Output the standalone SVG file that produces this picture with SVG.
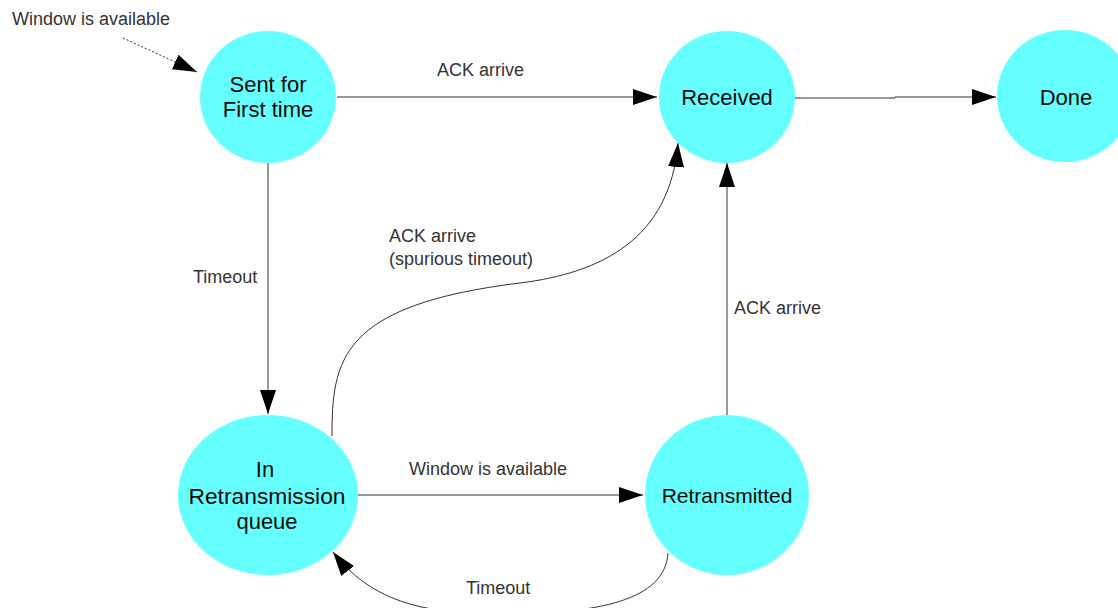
<svg xmlns="http://www.w3.org/2000/svg" width="1118" height="608" viewBox="0 0 1118 608">
<style>
.node{fill:#66ffff;stroke:none}
.nt{font-family:"Liberation Sans",Arial,sans-serif;font-size:22px;fill:#0a0a0a;text-anchor:middle}
.lbl{font-family:"Liberation Sans",Arial,sans-serif;font-size:18px;fill:#333}
.edge{fill:none;stroke:#333;stroke-width:1}
</style>
<defs>
<marker id="arr" markerUnits="userSpaceOnUse" markerWidth="26" markerHeight="18" refX="24" refY="8" orient="auto" viewBox="0 0 26 18">
<path d="M0,0 L24,8 L0,16 z" fill="#000"/>
</marker>
</defs>
<rect width="1118" height="608" fill="#fff"/>
<g id="connectors">
<path class="edge" d="M123,38 L197,72" stroke-dasharray="2,2" marker-end="url(#arr)"/>
<path class="edge" d="M337,97 L657,97" marker-end="url(#arr)"/>
<path class="edge" d="M795,98 L895,98 L895,97 L996,97" marker-end="url(#arr)"/>
<path class="edge" d="M268,163 L268,414" marker-end="url(#arr)"/>
<path class="edge" d="M358,495 L643,495" marker-end="url(#arr)"/>
<path class="edge" d="M727,415 L727,163" marker-end="url(#arr)"/>
<path class="edge" d="M332,436 C332,360 340,305 520,283 C600,273 670,240 678,143" marker-end="url(#arr)"/>
<path class="edge" d="M668,553 C665,600 600,614 500,614 C420,614 370,600 333,552" marker-end="url(#arr)"/>
<text class="lbl" x="12" y="25">Window is available</text>
<text class="lbl" x="437" y="76">ACK arrive</text>
<text class="lbl" x="389" y="242">ACK arrive</text>
<text class="lbl" x="389" y="265">(spurious timeout)</text>
<text class="lbl" x="193" y="283">Timeout</text>
<text class="lbl" x="734" y="314">ACK arrive</text>
<text class="lbl" x="409" y="475">Window is available</text>
<text class="lbl" x="466" y="594">Timeout</text>
</g>
<g id="sent">
<ellipse class="node" cx="268" cy="97" rx="68" ry="66"/>
<text class="nt" x="268" y="92">Sent for</text>
<text class="nt" x="268" y="117">First time</text>
</g>
<g id="received">
<ellipse class="node" cx="727" cy="97" rx="68" ry="66"/>
<text class="nt" x="727" y="105">Received</text>
</g>
<g id="done">
<ellipse class="node" cx="1065" cy="96" rx="68" ry="66"/>
<text class="nt" x="1066" y="105">Done</text>
</g>
<g id="queue">
<ellipse class="node" cx="268" cy="495" rx="90" ry="80"/>
<text class="nt" x="265" y="477">In</text>
<text class="nt" x="267" y="504" textLength="157" lengthAdjust="spacingAndGlyphs">Retransmission</text>
<text class="nt" x="267" y="529">queue</text>
</g>
<g id="retransmitted">
<ellipse class="node" cx="727" cy="495" rx="82" ry="80"/>
<text class="nt" x="727" y="503" style="font-size:21px">Retransmitted</text>
</g>
</svg>
